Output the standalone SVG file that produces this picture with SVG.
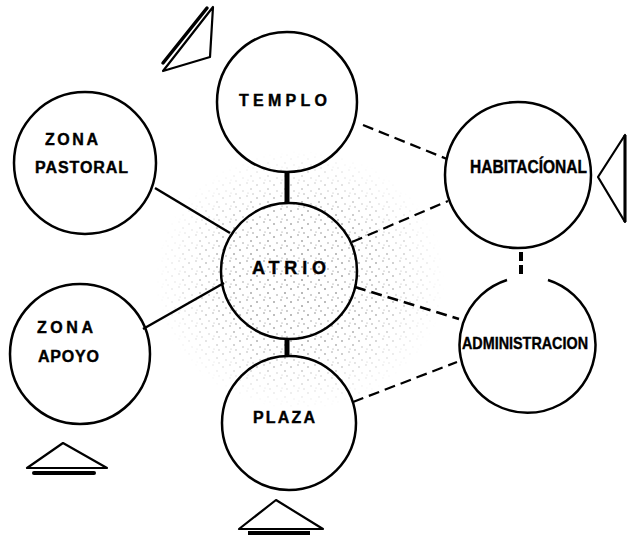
<svg xmlns="http://www.w3.org/2000/svg" width="627" height="535" viewBox="0 0 627 535">
<style>
.node{fill:none;stroke:#000;stroke-width:2.5}
.lbl{font-family:"Liberation Sans",Arial,sans-serif;font-weight:bold;fill:#000;stroke:#000;stroke-width:0.4;text-anchor:start}
.solid{stroke:#000;stroke-width:2.5;fill:none}
.dash{stroke:#000;stroke-width:2.2;fill:none;stroke-dasharray:11 6}
.thick{stroke:#000;stroke-width:5;fill:none}
.sym{fill:#fff;stroke:#000;stroke-width:2.2;stroke-linejoin:round}
</style>
<defs>
<pattern id="dots" width="17" height="13" patternUnits="userSpaceOnUse">
<circle cx="2" cy="3" r="0.8" fill="#555"/>
<circle cx="9" cy="1" r="0.7" fill="#666"/>
<circle cx="13" cy="7" r="0.8" fill="#555"/>
<circle cx="5" cy="9" r="0.7" fill="#777"/>
<circle cx="15" cy="12" r="0.7" fill="#666"/>
<circle cx="10" cy="11" r="0.6" fill="#777"/>
</pattern>
<radialGradient id="fade" cx="0.5" cy="0.5" r="0.5">
<stop offset="0" stop-color="#fff" stop-opacity="1"/>
<stop offset="0.55" stop-color="#fff" stop-opacity="0.8"/>
<stop offset="1" stop-color="#fff" stop-opacity="0"/>
</radialGradient>
<mask id="m"><ellipse cx="300" cy="280" rx="145" ry="130" fill="url(#fade)"/></mask>
</defs>
<rect width="627" height="535" fill="#fff"/>
<ellipse cx="300" cy="280" rx="145" ry="130" fill="url(#dots)" mask="url(#m)"/>

<g id="connectors">
<line class="thick" x1="287" y1="172" x2="287" y2="203"/>
<line class="thick" x1="287" y1="339" x2="287" y2="357"/>
<line class="solid" x1="155" y1="188" x2="230" y2="233"/>
<line class="solid" x1="143" y1="329" x2="224" y2="283"/>
<line class="dash" x1="363" y1="125" x2="447" y2="159"/>
<line class="dash" x1="352" y1="242" x2="448" y2="201"/>
<line class="dash" x1="355" y1="287" x2="459" y2="319" style="stroke-width:2.6"/>
<line class="dash" x1="353" y1="402" x2="457" y2="362"/>
<line stroke="#000" stroke-width="4" x1="521" y1="252" x2="521" y2="276" stroke-dasharray="9 4"/>
</g>

<g id="templo">
<circle class="node" cx="287" cy="102" r="70"/>
<text class="lbl" x="239" y="106" font-size="16" textLength="88" lengthAdjust="spacing">TEMPLO</text>
</g>
<g id="zona-pastoral">
<circle class="node" cx="85" cy="163" r="71"/>
<text class="lbl" x="45" y="145" font-size="16" textLength="53" lengthAdjust="spacing">ZONA</text>
<text class="lbl" x="35" y="173" font-size="16" textLength="93" lengthAdjust="spacing">PASTORAL</text>
</g>
<g id="habitacional">
<circle class="node" cx="518" cy="175" r="73"/>
<text class="lbl" x="470" y="173" font-size="18" textLength="117" lengthAdjust="spacingAndGlyphs">HABITACÍONAL</text>
</g>
<g id="atrio">
<circle class="node" cx="289" cy="271" r="68"/>
<text class="lbl" x="252" y="274" font-size="18" textLength="74" lengthAdjust="spacing">ATRIO</text>
</g>
<g id="zona-apoyo">
<circle class="node" cx="80" cy="354" r="70"/>
<text class="lbl" x="37" y="333" font-size="16" textLength="56" lengthAdjust="spacing">ZONA</text>
<text class="lbl" x="38" y="362" font-size="16" textLength="61" lengthAdjust="spacing">APOYO</text>
</g>
<g id="administracion">
<path class="node" d="M 548 280 A 68 68 0 1 1 507 280"/>
<text class="lbl" x="462" y="349" font-size="17" textLength="126" lengthAdjust="spacingAndGlyphs">ADMINISTRACION</text>
</g>
<g id="plaza">
<circle class="node" cx="289" cy="423" r="67"/>
<text class="lbl" x="253" y="423" font-size="16" textLength="62" lengthAdjust="spacing">PLAZA</text>
</g>

<g id="symbols">
<polygon class="sym" points="163,71 213,7 210,57"/>
<line stroke="#000" stroke-width="3.5" stroke-linecap="round" x1="163" y1="63" x2="207" y2="8"/>
<polygon class="sym" points="598,177 625,135 625,222"/>
<line stroke="#000" stroke-width="3" x1="625" y1="135" x2="625" y2="222"/>
<polygon class="sym" points="63,443 27,468 107,468"/>
<line stroke="#000" stroke-width="4" stroke-linecap="round" x1="34" y1="473" x2="94" y2="473"/>
<polygon class="sym" points="276,500 239,529 323,529"/>
<line stroke="#000" stroke-width="4" x1="248" y1="533" x2="310" y2="533"/>
</g>
</svg>
